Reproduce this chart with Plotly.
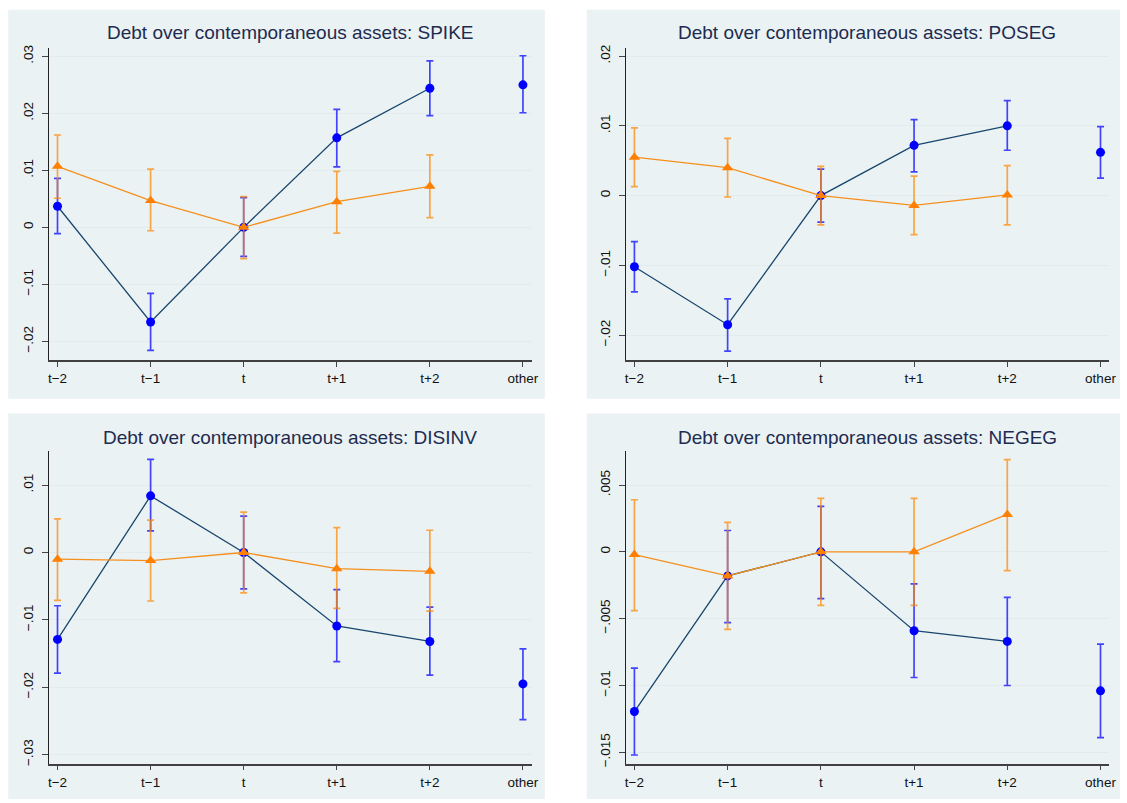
import plotly.graph_objects as go

W, H = 1127, 803

categories = ["t\u22122", "t\u22121", "t", "t+1", "t+2", "other"]

titles = [
    "Debt over contemporaneous assets: SPIKE",
    "Debt over contemporaneous assets: POSEG",
    "Debt over contemporaneous assets: DISINV",
    "Debt over contemporaneous assets: NEGEG",
]

# Blue series (6 points incl. "other"), orange series (5 points)
spike_blue = [0.0037, -0.0166, 0.0, 0.0157, 0.0244, 0.0250]
spike_blue_lo = [-0.0011, -0.0216, -0.0051, 0.0106, 0.0196, 0.0201]
spike_blue_hi = [0.0086, -0.0116, 0.0052, 0.0207, 0.0292, 0.0301]
spike_orng = [0.0107, 0.0047, 0.0, 0.0045, 0.0072]
spike_orng_lo = [0.0051, -0.0006, -0.0055, -0.0010, 0.0017]
spike_orng_hi = [0.0162, 0.0102, 0.0054, 0.0098, 0.0127]

poseg_blue = [-0.0102, -0.0185, 0.0, 0.0072, 0.0100, 0.0062]
poseg_blue_lo = [-0.0138, -0.0223, -0.0038, 0.0034, 0.0065, 0.0025]
poseg_blue_hi = [-0.0066, -0.0148, 0.0038, 0.0109, 0.0136, 0.0099]
poseg_orng = [0.0055, 0.0040, 0.0, -0.0014, 0.0001]
poseg_orng_lo = [0.0013, -0.0002, -0.0042, -0.0056, -0.0042]
poseg_orng_hi = [0.0097, 0.0082, 0.0042, 0.0028, 0.0043]

disinv_blue = [-0.0129, 0.0084, 0.0, -0.0109, -0.0132, -0.0195]
disinv_blue_lo = [-0.0179, 0.0032, -0.0054, -0.0162, -0.0182, -0.0248]
disinv_blue_hi = [-0.0079, 0.0138, 0.0054, -0.0055, -0.0081, -0.0143]
disinv_orng = [-0.0010, -0.0012, 0.0, -0.0024, -0.0028]
disinv_orng_lo = [-0.0071, -0.0072, -0.0060, -0.0083, -0.0087]
disinv_orng_hi = [0.0050, 0.0048, 0.0060, 0.0037, 0.0033]

negeg_blue = [-0.01195, -0.0018, 0.0, -0.0059, -0.0067, -0.0104]
negeg_blue_lo = [-0.0152, -0.0053, -0.0035, -0.0094, -0.0100, -0.0139]
negeg_blue_hi = [-0.0087, 0.0016, 0.0034, -0.0024, -0.0034, -0.0069]
negeg_orng = [-0.0002, -0.0018, 0.0, 0.0000, 0.0028]
negeg_orng_lo = [-0.0044, -0.0058, -0.0040, -0.0040, -0.0014]
negeg_orng_hi = [0.0039, 0.0022, 0.0040, 0.0040, 0.0069]

ytick_vals = [
    [-0.02, -0.01, 0, 0.01, 0.02, 0.03],
    [-0.02, -0.01, 0, 0.01, 0.02],
    [-0.03, -0.02, -0.01, 0, 0.01],
    [-0.015, -0.01, -0.005, 0, 0.005],
]
ytick_text = [
    ["\u2212.02", "\u2212.01", "0", ".01", ".02", ".03"],
    ["\u2212.02", "\u2212.01", "0", ".01", ".02"],
    ["\u2212.03", "\u2212.02", "\u2212.01", "0", ".01"],
    ["\u2212.015", "\u2212.01", "\u2212.005", "0", ".005"],
]
yranges = [
    [-0.02325, 0.03153],
    [-0.02354, 0.02121],
    [-0.03132, 0.01509],
    [-0.015846, 0.007567],
]

panels = [
    (spike_blue, spike_blue_lo, spike_blue_hi, spike_orng, spike_orng_lo, spike_orng_hi),
    (poseg_blue, poseg_blue_lo, poseg_blue_hi, poseg_orng, poseg_orng_lo, poseg_orng_hi),
    (disinv_blue, disinv_blue_lo, disinv_blue_hi, disinv_orng, disinv_orng_lo, disinv_orng_hi),
    (negeg_blue, negeg_blue_lo, negeg_blue_hi, negeg_orng, negeg_orng_lo, negeg_orng_hi),
]

# pixel layout (x0, x1, top, bottom) of plot areas and backgrounds
plot_px = [
    (48.3, 534.3, 45, 360),
    (629.3, 1116, 45, 360),
    (48.3, 534.3, 451.7, 767.3),
    (629.3, 1116, 451.7, 767.3),
]
bg_px = [
    (7.3, 547.7, 6.7, 399.3),
    (590, 1127, 6.7, 399.3),
    (7.3, 547.7, 414, 803),
    (590, 1127, 414, 803),
]
title_y_px = [30, 30, 438.3, 438.3]

BLUE = "#0000ff"
BLUE_ERR = "rgba(0,0,255,0.72)"
NAVY = "#1a476f"
ORANGE = "#ff7f00"
ORANGE_LINE = "#f5901e"
ORANGE_ERR = "rgba(255,135,0,0.72)"
BG = "#eaf2f3"
GRID = "#e2ecee"
FONT = "Liberation Sans, Arial, sans-serif"

xpos = list(range(len(categories)))

fig = go.Figure()
layout = dict(
    width=W, height=H, margin=dict(l=0, r=0, t=0, b=0),
    paper_bgcolor="white", plot_bgcolor="white", showlegend=False,
    font=dict(family=FONT, size=13.5, color="#111111"),
    shapes=[], annotations=[],
)

for i, (b, blo, bhi, o, olo, ohi) in enumerate(panels):
    n = i + 1
    xa = "x" if n == 1 else f"x{n}"
    ya = "y" if n == 1 else f"y{n}"
    # blue connected part
    fig.add_trace(go.Scatter(
        x=xpos[:5], y=b[:5], xaxis=xa, yaxis=ya, mode="lines+markers",
        line=dict(color=NAVY, width=1.3),
        marker=dict(color=BLUE, size=9, symbol="circle"),
        error_y=dict(type="data", symmetric=False,
                     array=[h - v for h, v in zip(bhi[:5], b[:5])],
                     arrayminus=[v - l for v, l in zip(b[:5], blo[:5])],
                     color=BLUE_ERR, thickness=1.7, width=3.5),
        hoverinfo="skip",
    ))
    # blue "other"
    fig.add_trace(go.Scatter(
        x=xpos[5:], y=b[5:], xaxis=xa, yaxis=ya, mode="markers",
        marker=dict(color=BLUE, size=9, symbol="circle"),
        error_y=dict(type="data", symmetric=False,
                     array=[h - v for h, v in zip(bhi[5:], b[5:])],
                     arrayminus=[v - l for v, l in zip(b[5:], blo[5:])],
                     color=BLUE_ERR, thickness=1.7, width=3.5),
        hoverinfo="skip",
    ))
    # orange series
    fig.add_trace(go.Scatter(
        x=xpos[:5], y=o, xaxis=xa, yaxis=ya, mode="lines+markers",
        line=dict(color=ORANGE_LINE, width=1.3),
        marker=dict(color=ORANGE, size=10, symbol="triangle-up"),
        error_y=dict(type="data", symmetric=False,
                     array=[h - v for h, v in zip(ohi, o)],
                     arrayminus=[v - l for v, l in zip(o, olo)],
                     color=ORANGE_ERR, thickness=1.7, width=3.5),
        hoverinfo="skip",
    ))

    px0, px1, ptop, pbot = plot_px[i]
    xdom = [px0 / W, px1 / W]
    ydom = [1 - pbot / H, 1 - ptop / H]
    xkey = "xaxis" if n == 1 else f"xaxis{n}"
    ykey = "yaxis" if n == 1 else f"yaxis{n}"
    layout[xkey] = dict(
        domain=xdom, anchor=ya, range=[-0.092, 5.092],
        tickvals=xpos, ticktext=categories, ticks="outside", ticklen=5,
        tickwidth=1.2, tickcolor="#444444", showgrid=False, zeroline=False,
        showline=True, linecolor="#404040", linewidth=1.5,
        tickfont=dict(size=13.5, color="#111111", family=FONT),
        fixedrange=True,
    )
    layout[ykey] = dict(
        domain=ydom, anchor=xa, range=yranges[i],
        tickvals=ytick_vals[i], ticktext=ytick_text[i], ticks="outside",
        ticklen=6, tickwidth=1.2, tickcolor="#444444", tickangle=-90,
        showgrid=True, gridcolor=GRID, gridwidth=1, zeroline=False,
        showline=True, linecolor="#222222", linewidth=1.3,
        tickfont=dict(size=13.5, color="#111111", family=FONT),
        ticklabelstandoff=3, fixedrange=True,
    )
    bx0, bx1, btop, bbot = bg_px[i]
    layout["shapes"].append(dict(
        type="rect", xref="paper", yref="paper", layer="below",
        x0=bx0 / W, x1=bx1 / W, y0=1 - bbot / H, y1=1 - btop / H,
        fillcolor=BG, line=dict(width=0),
    ))
    layout["annotations"].append(dict(
        text=titles[i], xref="paper", yref="paper",
        x=(xdom[0] + xdom[1]) / 2, y=1 - title_y_px[i] / H,
        xanchor="center", yanchor="middle", showarrow=False,
        font=dict(size=19, color="#1e2b50", family=FONT),
    ))

fig.update_layout(**layout)
fig.write_html(
    "out.html",
    config={"displayModeBar": False},
    post_script="document.body.style.margin='0';document.body.style.overflow='hidden';",
)
